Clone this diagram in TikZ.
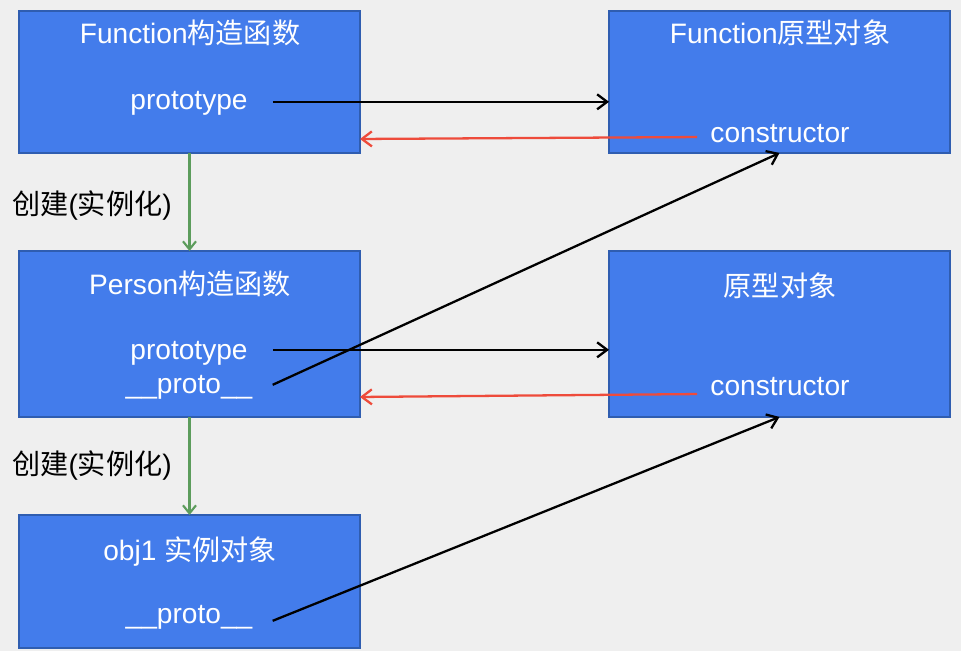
\documentclass[tikz,border=0pt]{standalone}
\usepackage{fontspec}
\setmainfont{Liberation Sans}
\newfontfamily\cjk{Noto Sans CJK SC}
\usepackage{tikz}
\usetikzlibrary{arrows.meta,positioning,calc}
\definecolor{boxblue}{HTML}{437CEB}
\definecolor{boxline}{HTML}{2F5DB0}
\definecolor{bggray}{HTML}{EFEFEF}
\definecolor{backred}{HTML}{EE4B3B}
\definecolor{makegreen}{HTML}{5C9C5C}

\begin{document}
\begin{tikzpicture}[x=0.02cm, y=-0.02cm,
    objbox/.style={draw=boxline, fill=boxblue, line width=0.9pt, inner sep=0pt, outer sep=0pt, minimum width=6.82cm},
    txt/.style={text=white, anchor=base, inner sep=0pt, font=\fontsize{16}{19}\selectfont},
    note/.style={text=black, anchor=base west, inner sep=0pt, font=\fontsize{16}{19}\selectfont},
    ptr/.style={line width=1.3pt, black, -{Straight Barb[length=2mm,width=3mm]}},
    back/.style={line width=1.3pt, backred, -{Straight Barb[length=2mm,width=3mm]}},
    make/.style={line width=1.2pt, makegreen, -{Straight Barb[length=1.6mm,width=2.6mm]}}]

    % Background
    \fill[bggray] (0,0) rectangle (961,651);

    % Boxes
    \node[objbox, minimum height=2.84cm] (fc) at (189.5,82) {};
    \node[objbox, minimum height=2.84cm] (fp) at (779.5,82) {};
    \node[objbox, minimum height=3.32cm] (pc) at (189.5,334) {};
    \node[objbox, minimum height=3.32cm] (pr) at (779.5,334) {};
    \node[objbox, minimum height=2.66cm] (ob) at (189.5,581.5) {};

    % Texts
    \node[txt] (fcT) at (190,44) {Function{\cjk 构造函数}};
    \node[txt] (fcP) at (189,110) {prototype};
    \node[txt] (fpT) at (780,44) {Function{\cjk 原型对象}};
    \node[txt] (fpC) at (780,143) {constructor};

    \node[txt] (pcT) at (190,295) {Person{\cjk 构造函数}};
    \node[txt] (pcP) at (189,360) {prototype};
    \node[txt] (pcU) at (189,394) {\_\_proto\_\_};
    \node[txt] (prT) at (780,297) {\cjk 原型对象};
    \node[txt] (prC) at (780,396) {constructor};

    \node[txt] (obT) at (190,561) {obj1 {\cjk 实例对象}};
    \node[txt] (obU) at (189,624) {\_\_proto\_\_};

    \node[note] (mk1) at (12,215) {{\cjk 创建}({\cjk 实例化})};
    \node[note] (mk2) at (12,475) {{\cjk 创建}({\cjk 实例化})};

    % Instantiation
    \draw[make] (fc) -- (pc);
    \draw[make] (pc) -- (ob);

    % prototype links
    \draw[ptr] ([xshift=0.5cm,yshift=0.04cm]fcP.east) -- ([yshift=0.04cm]fcP.east -| fp.west);
    \draw[ptr] ([xshift=0.5cm,yshift=0.08cm]pcP.east) -- ([yshift=0.08cm]pcP.east -| pr.west);

    % constructor links
    \draw[back] ([xshift=-0.26cm,yshift=-0.06cm]fpC.west) -- ([yshift=0.28cm]fc.south east);
    \draw[back] ([xshift=-0.26cm,yshift=-0.14cm]prC.west) -- ([yshift=0.4cm]pc.south east);

    % __proto__ links
    \draw[ptr] ([xshift=0.4cm,yshift=0.06cm]pcU.east) -- (fp.south);
    \draw[ptr] ([xshift=0.4cm,yshift=-0.06cm]obU.east) -- (pr.south);

\end{tikzpicture}
\end{document}
